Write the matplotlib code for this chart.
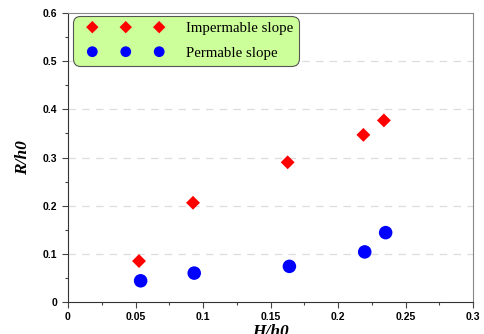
import matplotlib.pyplot as plt
from matplotlib.ticker import MultipleLocator
from matplotlib.legend_handler import HandlerPathCollection

# data
hx_imp = [0.0526, 0.0926, 0.1627, 0.2188, 0.2340]
ry_imp = [0.085, 0.206, 0.290, 0.347, 0.377]
hx_perm = [0.0538, 0.0935, 0.1640, 0.2198, 0.2353]
ry_perm = [0.044, 0.060, 0.074, 0.104, 0.144]
xt = [0, 0.05, 0.1, 0.15, 0.2, 0.25, 0.3]
yt = [0, 0.1, 0.2, 0.3, 0.4, 0.5, 0.6]

fig = plt.figure(figsize=(4.85, 3.34), dpi=100)
ax = fig.add_axes([68/485, 32/334, 405/485, 289/334])

imp = ax.scatter(hx_imp, ry_imp, marker='D', s=50, color='red', edgecolors='none',
                 label='Impermable slope', zorder=3)
perm = ax.scatter(hx_perm, ry_perm, marker='o', s=95, color='blue', edgecolors='none',
                  label='Permable slope', zorder=3)

ax.set_xlim(0, 0.3)
ax.set_ylim(0, 0.6)
ax.set_xticks(xt)
ax.set_xticklabels(['0', '0.05', '0.1', '0.15', '0.2', '0.25', '0.3'])
ax.set_yticks(yt)
ax.set_yticklabels(['0', '0.1', '0.2', '0.3', '0.4', '0.5', '0.6'])
ax.xaxis.set_minor_locator(MultipleLocator(0.025))
ax.yaxis.set_minor_locator(MultipleLocator(0.05))
for lab in ax.get_xticklabels() + ax.get_yticklabels():
    lab.set_fontweight('bold')
    lab.set_fontsize(7.5)
    lab.set_family('Liberation Sans')
ax.tick_params(which='major', length=4, width=0.8, color='#444444')
ax.tick_params(which='minor', length=2.5, width=0.8, color='#444444')

for y in [0.1, 0.2, 0.3, 0.4, 0.5]:
    ax.axhline(y, color='#dddddd', lw=0.9, ls=(0, (6, 5)), zorder=1)

ax.spines['left'].set_color('#333333')
ax.spines['bottom'].set_color('#333333')
ax.spines['top'].set_color('#888888')
ax.spines['right'].set_color('#888888')

ax.set_xlabel('H/h0', family='Liberation Serif', fontsize=12.5, fontweight='bold',
              style='italic', labelpad=1)
ax.set_ylabel('R/h0', family='Liberation Serif', fontsize=12.5, fontweight='bold',
              style='italic', labelpad=9)

hm = {imp: HandlerPathCollection(marker_pad=0.9, numpoints=3, sizes=[40, 40, 40]),
      perm: HandlerPathCollection(marker_pad=0.9, numpoints=3, sizes=[60, 60, 60])}
leg = ax.legend(loc='upper left', bbox_to_anchor=(5/405, 1 - 3/289),
                scatterpoints=3, scatteryoffsets=[0.5], handler_map=hm,
                prop={'family': 'Liberation Serif', 'size': 10.7},
                fancybox=True, facecolor='#ccff99', edgecolor='#555555',
                framealpha=1, borderpad=0.4, labelspacing=0.75,
                handlelength=6.3, handletextpad=0.88, borderaxespad=0)
leg.get_frame().set_linewidth(0.8)
leg.get_frame().set_boxstyle('round,pad=0,rounding_size=0.5')

fig.savefig('out.png', dpi=100)
